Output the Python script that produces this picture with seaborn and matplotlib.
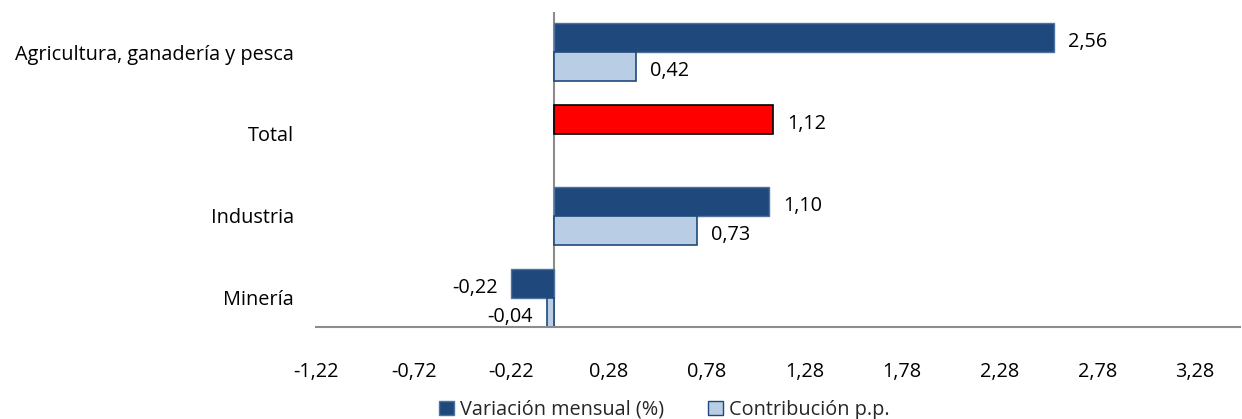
import numpy as np
import pandas as pd
import matplotlib
matplotlib.use("Agg")
import matplotlib.pyplot as plt
import seaborn as sns
from matplotlib.patches import Patch

categories = ["Agricultura, ganadería y pesca", "Total", "Industria", "Minería"]
variacion = [2.56, 1.12, 1.10, -0.22]
contribucion = [0.42, np.nan, 0.73, -0.04]
series_names = ["Variación mensual (%)", "Contribución p.p."]
xticks = [-1.22, -0.72, -0.22, 0.28, 0.78, 1.28, 1.78, 2.28, 2.78, 3.28]
xtick_labels = ["-1,22", "-0,72", "-0,22", "0,28", "0,78", "1,28", "1,78", "2,28", "2,78", "3,28"]

dark = "#1F497D"
light = "#B9CDE5"
red = "#FF0000"
FS = 14.3

sns.set_theme(style="white")
plt.rcParams["font.family"] = ["Open Sans", "DejaVu Sans"]

df = pd.DataFrame({
    "cat": categories * 2,
    "val": variacion + contribucion,
    "serie": [series_names[0]] * 4 + [series_names[1]] * 4,
})

fig = plt.figure(figsize=(12.42, 4.19), dpi=100)
ax = fig.add_axes([316 / 1242, 1 - 327 / 419, 924 / 1242, 315 / 419])

sns.barplot(data=df, x="val", y="cat", hue="serie", orient="h",
            palette=[dark, light], saturation=1, width=0.71, gap=0, ax=ax,
            legend=False, order=categories, hue_order=series_names)

for i, cont in enumerate(ax.containers):
    for p in cont.patches:
        if i == 0:
            p.set_edgecolor("#4F72A0")
            p.set_linewidth(1.0)
        else:
            p.set_edgecolor(dark)
            p.set_linewidth(1.2)

tot_idx = categories.index("Total")
ax.containers[0].patches[tot_idx].set_facecolor(red)
ax.containers[0].patches[tot_idx].set_edgecolor("#000000")
ax.containers[0].patches[tot_idx].set_linewidth(1.2)

for cont, vals in zip(ax.containers, [variacion, contribucion]):
    labs = ["" if np.isnan(v) else f"{v:.2f}".replace(".", ",") for v in vals]
    if len(cont.patches) != len(labs):
        labs = [l for l in labs if l != ""]
    texts = ax.bar_label(cont, labels=labs, padding=10, fontsize=FS, color="#000000")
    for t in texts:
        dx, dy = t.xyann
        t.xyann = (dx, dy - 3)

ax.set_xlim(-1.22, 3.51)
ax.set_ylim(3.354, -0.488)
ax.set_xticks(xticks)
ax.set_xticklabels(xtick_labels)
ax.set_xlabel("")
ax.set_ylabel("")
ax.tick_params(axis="x", length=0, pad=25, labelsize=FS, colors="#000000")
ax.tick_params(axis="y", length=0, pad=16, labelsize=FS, colors="#000000")
for s in ["top", "right", "left"]:
    ax.spines[s].set_visible(False)
ax.spines["bottom"].set_color("#8C8C8C")
ax.spines["bottom"].set_linewidth(1.5)
ax.axvline(0, color="#8C8C8C", lw=1.5, zorder=0)

handles = [Patch(facecolor=dark, edgecolor="#4F72A0", label=series_names[0]),
           Patch(facecolor=light, edgecolor=dark, label=series_names[1])]
fig.legend(handles=handles, loc="lower center", bbox_to_anchor=(0.535, -0.045),
           ncol=2, frameon=False, fontsize=FS, handlelength=0.75, handleheight=0.75,
           handletextpad=0.3, columnspacing=2.2)

fig.savefig("out.png", dpi=100)
